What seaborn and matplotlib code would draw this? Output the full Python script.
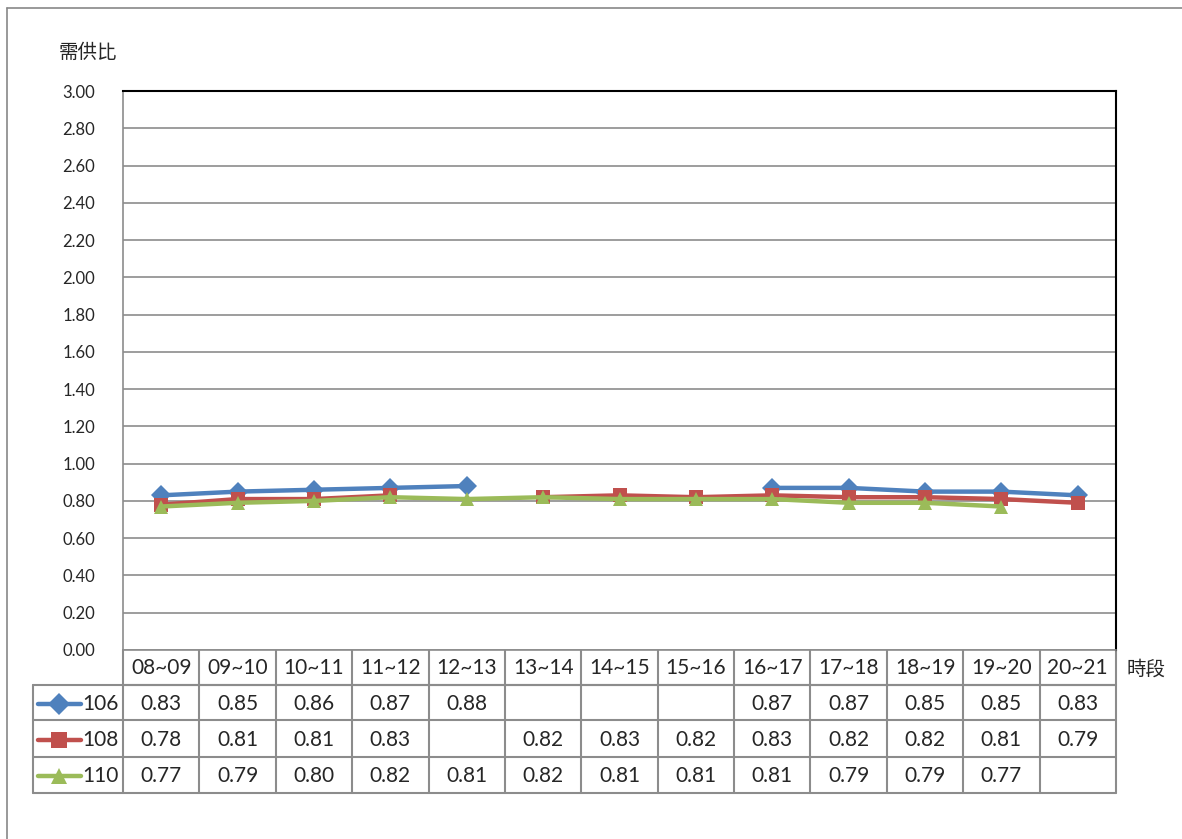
import numpy as np
import pandas as pd
import matplotlib
matplotlib.use("Agg")
import matplotlib.pyplot as plt
import seaborn as sns

# data
periods = ["08~09", "09~10", "10~11", "11~12", "12~13", "13~14", "14~15",
           "15~16", "16~17", "17~18", "18~19", "19~20", "20~21"]
s106 = [0.83, 0.85, 0.86, 0.87, 0.88, None, None, None, 0.87, 0.87, 0.85, 0.85, 0.83]
s108 = [0.78, 0.81, 0.81, 0.83, None, 0.82, 0.83, 0.82, 0.83, 0.82, 0.82, 0.81, 0.79]
s110 = [0.77, 0.79, 0.80, 0.82, 0.81, 0.82, 0.81, 0.81, 0.81, 0.79, 0.79, 0.77, None]
series_names = ["106", "108", "110"]
yticks = [0, 0.2, 0.4, 0.6, 0.8, 1.0, 1.2, 1.4, 1.6, 1.8, 2.0, 2.2, 2.4, 2.6, 2.8, 3.0]

colors = {"106": "#4F81BD", "108": "#C0504D", "110": "#9BBB59"}
markers = {"106": "D", "108": "s", "110": "^"}

sns.set_style("white")
plt.rcParams["font.family"] = ["Lato", "Noto Sans CJK TC", "DejaVu Sans"]

# long form, with a segment id so gaps stay gaps
rows = []
for name, vals in zip(series_names, [s106, s108, s110]):
    seg = 0
    for i, v in enumerate(vals):
        if v is None:
            seg += 1
            continue
        rows.append({"x": i, "v": v, "series": name, "seg": f"{name}_{seg}"})
df = pd.DataFrame(rows)

W, H = 1182, 839
fig = plt.figure(figsize=(W / 100, H / 100), dpi=100)

def fx(px):
    return px / W

def fy(py):
    return 1 - py / H

# outer frame
fig.add_artist(plt.Line2D([fx(7), fx(7)], [fy(8), 0], color="#888888", lw=1.2))
fig.add_artist(plt.Line2D([fx(7), 1], [fy(8), fy(8)], color="#888888", lw=1.2))

L, R, T, B = 123, 1116, 91, 650
ax = fig.add_axes([fx(L), fy(B), fx(R) - fx(L), fy(T) - fy(B)])
sns.lineplot(data=df, x="x", y="v", hue="series", units="seg", estimator=None,
             style="series", markers=markers, dashes=False, palette=colors,
             linewidth=3.2, markersize=10, markeredgewidth=0, legend=False, ax=ax)
ax.set_xlim(-0.5, len(periods) - 0.5)
ax.set_ylim(0, 3.0)
ax.set_yticks(yticks)
ax.set_yticklabels([f"{t:.2f}" for t in yticks], fontsize=12)
ax.set_xticks([])
ax.set_xlabel("")
ax.set_ylabel("")
ax.tick_params(axis="y", length=0, pad=20)
ax.grid(axis="y", color="#8c8c8c", lw=1.2)
for side in ["left", "bottom"]:
    ax.spines[side].set_color("#8c8c8c")
    ax.spines[side].set_linewidth(1.2)
for side in ["top", "right"]:
    ax.spines[side].set_color("black")
    ax.spines[side].set_linewidth(1.5)

fig.text(fx(59), fy(52), "需供比", fontsize=14, va="center", ha="left")
fig.text(fx(1127), fy(668), "時段", fontsize=14, va="center", ha="left")

# data table below the chart
tab = fig.add_axes([0, 0, 1, 1], zorder=-1)
tab.set_xlim(0, W)
tab.set_ylim(H, 0)
tab.axis("off")
col_w = (R - L) / len(periods)
row_y = [650, 685, 720, 757, 793]
grid_c = "#8c8c8c"
# horizontal lines
tab.plot([L, R], [row_y[1], row_y[1]], color=grid_c, lw=1.5)
for y in row_y[1:]:
    tab.plot([33, R], [y, y], color=grid_c, lw=1.5)
# vertical lines
tab.plot([33, 33], [row_y[1], row_y[4]], color=grid_c, lw=1.5)
for i in range(len(periods) + 1):
    tab.plot([L + i * col_w] * 2, [row_y[0], row_y[4]], color=grid_c, lw=1.5)

for i, p in enumerate(periods):
    tab.text(L + (i + 0.5) * col_w, (row_y[0] + row_y[1]) / 2 + 1, p,
             ha="center", va="center", fontsize=15)

for r, (name, vals) in enumerate(zip(series_names, [s106, s108, s110])):
    yc = (row_y[r + 1] + row_y[r + 2]) / 2 + 1
    tab.plot([38, 81], [yc, yc], color=colors[name], lw=3.2)
    tab.plot([59], [yc], marker=markers[name], color=colors[name], ms=11, mew=0)
    tab.text(82, yc, name, ha="left", va="center", fontsize=15)
    for i, v in enumerate(vals):
        if v is not None:
            tab.text(L + (i + 0.5) * col_w, yc, f"{v:.2f}", ha="center",
                     va="center", fontsize=15)

fig.savefig("out.png", dpi=100, facecolor="white")
